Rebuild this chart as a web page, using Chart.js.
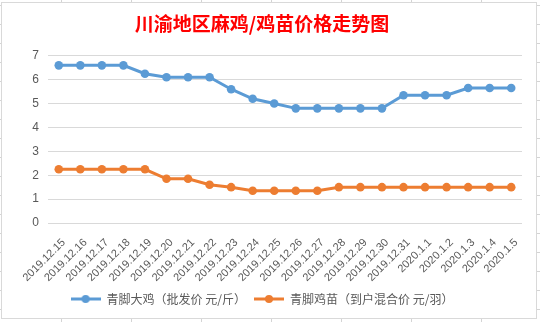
<!DOCTYPE html>
<html>
<head>
<meta charset="utf-8">
<script src="https://cdn.jsdelivr.net/npm/chart.js@4/dist/chart.umd.min.js"></script>
<style>
    html, body {
        margin: 0;
        padding: 0;
        width: 540px;
        height: 322px;
        overflow: hidden;
        background-color: #fff;
        /* Tabellen-Gitter hinter dem Diagramm */
        background-image:
            repeating-linear-gradient(to right, transparent 0, transparent 61px, #d4d4d4 61px, #d4d4d4 62px, transparent 62px, transparent 70px),
            repeating-linear-gradient(to bottom, transparent 0, transparent 5px, #d4d4d4 5px, #d4d4d4 6px, transparent 6px, transparent 19px);
    }
    .chart-box {
        position: absolute;
        left: 1px;
        top: 2px;
        width: 534px;
        height: 315px;
        border: 1px solid #d9d9d9;
        background: #fff;
    }
    canvas { display: block; }
</style>
</head>
<body>
<div class="chart-box">
    <canvas id="mainChart" width="534" height="315"></canvas>
</div>
<script>
// Daten
const categories = [
    '2019.12.15', '2019.12.16', '2019.12.17', '2019.12.18', '2019.12.19',
    '2019.12.20', '2019.12.21', '2019.12.22', '2019.12.23', '2019.12.24',
    '2019.12.25', '2019.12.26', '2019.12.27', '2019.12.28', '2019.12.29',
    '2019.12.30', '2019.12.31', '2020.1.1', '2020.1.2', '2020.1.3',
    '2020.1.4', '2020.1.5'
];
const bigChicken = [6.6, 6.6, 6.6, 6.6, 6.25, 6.1, 6.1, 6.1, 5.6, 5.2, 5.0,
    4.8, 4.8, 4.8, 4.8, 4.8, 5.35, 5.35, 5.35, 5.65, 5.65, 5.65];
const chicks = [2.25, 2.25, 2.25, 2.25, 2.25, 1.85, 1.85, 1.6, 1.5, 1.35, 1.35,
    1.35, 1.35, 1.5, 1.5, 1.5, 1.5, 1.5, 1.5, 1.5, 1.5, 1.5];
const seriesNames = ['青脚大鸡（批发价 元/斤）', '青脚鸡苗（到户混合价 元/羽）'];
const yTicks = [0, 1, 2, 3, 4, 5, 6, 7];

const BLUE = '#5b9bd5';
const ORANGE = '#ed7d31';
const TEXT = '#595959';

// Legenden-Symbol: Linie mit Punkt
function legendIcon(color) {
    const c = document.createElement('canvas');
    c.width = 30;
    c.height = 10;
    const ctx = c.getContext('2d');
    ctx.strokeStyle = color;
    ctx.lineWidth = 3;
    ctx.beginPath();
    ctx.moveTo(0, 5);
    ctx.lineTo(30, 5);
    ctx.stroke();
    ctx.fillStyle = color;
    ctx.beginPath();
    ctx.arc(15, 5, 4, 0, Math.PI * 2);
    ctx.fill();
    return c;
}

const icons = [legendIcon(BLUE), legendIcon(ORANGE)];

function makeDataset(label, data, color) {
    return {
        label,
        data,
        borderColor: color,
        backgroundColor: color,
        borderWidth: 3,
        pointRadius: 4.3,
        pointHoverRadius: 4.3,
        pointBackgroundColor: color,
        pointBorderWidth: 0,
        tension: 0,
        fill: false
    };
}

new Chart(document.getElementById('mainChart'), {
    type: 'line',
    data: {
        labels: categories,
        datasets: [
            makeDataset(seriesNames[0], bigChicken, BLUE),
            makeDataset(seriesNames[1], chicks, ORANGE)
        ]
    },
    options: {
        responsive: false,
        animation: false,
        layout: {
            padding: { left: 0, right: 14, top: 0, bottom: 3 }
        },
        plugins: {
            title: {
                display: true,
                text: '川渝地区麻鸡/鸡苗价格走势图',
                color: '#ff0000',
                font: { family: '"Noto Sans CJK SC"', size: 19, weight: 'bold' },
                padding: { top: 9, bottom: 21 }
            },
            legend: {
                position: 'bottom',
                labels: {
                    color: TEXT,
                    font: { family: '"Noto Sans CJK SC"', size: 12 },
                    usePointStyle: true,
                    pointStyleWidth: 30,
                    padding: 8,
                    generateLabels: (chart) => chart.data.datasets.map((ds, i) => ({
                        text: ds.label,
                        fontColor: TEXT,
                        pointStyle: icons[i],
                        strokeStyle: ds.borderColor,
                        fillStyle: ds.borderColor,
                        lineWidth: 0,
                        datasetIndex: i
                    }))
                }
            },
            tooltip: { enabled: false }
        },
        scales: {
            x: {
                offset: true,
                grid: { display: false },
                border: { display: false },
                afterFit: (axis) => { axis.height = 62; },
                ticks: {
                    color: TEXT,
                    font: { family: '"Liberation Sans"', size: 11 },
                    minRotation: 45,
                    maxRotation: 45,
                    autoSkip: false,
                    padding: 5,
                    labelOffset: 5
                }
            },
            y: {
                min: 0,
                max: 7,
                afterBuildTicks: (axis) => {
                    axis.ticks = yTicks.map(v => ({ value: v }));
                },
                afterFit: (axis) => { axis.width = 46; },
                grid: {
                    color: '#d9d9d9',
                    lineWidth: 1,
                    drawTicks: false
                },
                border: { display: false },
                ticks: {
                    color: TEXT,
                    font: { family: '"Liberation Sans"', size: 12 },
                    padding: 9
                }
            }
        }
    }
});
</script>
</body>
</html>
